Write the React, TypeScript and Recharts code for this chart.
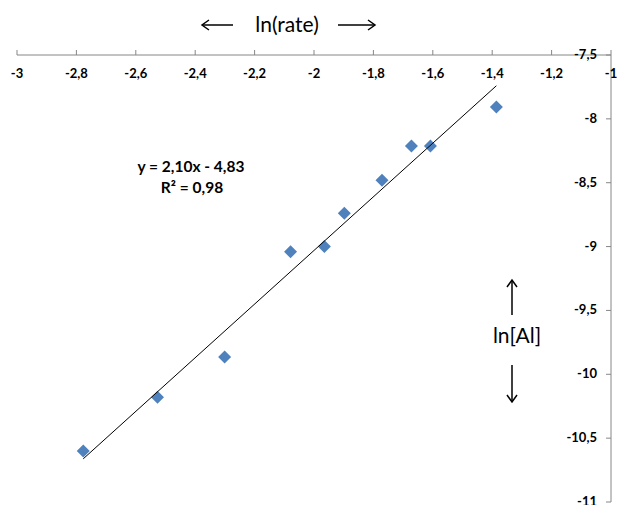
// Scatter of ln[Al] vs ln(rate) with its linear trend line, Excel look:
// x axis on top, y axis on the right, labels inside the plot.

import { Scatter, ScatterChart, XAxis, YAxis } from "recharts";

const LN_RATE = [-2.777, -2.527, -2.301, -2.079, -1.965, -1.898, -1.771, -1.672, -1.608, -1.386];
const LN_AL = [-10.6, -10.18, -9.865, -9.04, -9.0, -8.74, -8.48, -8.213, -8.213, -7.907];

// trend line y = 2,10x - 4,83 drawn over the range of the data
const TREND_X = [-2.777, -1.386];
const TREND_Y = [-10.662, -7.741];

const X_TICKS = [-3, -2.8, -2.6, -2.4, -2.2, -2, -1.8, -1.6, -1.4, -1.2, -1];
const Y_TICKS = [-11, -10.5, -10, -9.5, -9, -8.5, -8, -7.5];

const BLUE = "#4f81bd";
const AXIS = "#868686";
const FONT = "Lato, 'Open Sans', sans-serif";

const points = LN_RATE.map((x, i) => ({ x, y: LN_AL[i] }));
const trend = TREND_X.map((x, i) => ({ x, y: TREND_Y[i] }));

const fmt = (v: number) => String(v).replace(".", ",");

function XTick(props: any) {
  const { x, y, payload } = props;
  return (
    <g>
      <line x1={x} x2={x} y1={y} y2={y - 5} stroke={AXIS} />
      <text x={x} y={y + 23} textAnchor="middle" fontFamily={FONT} fontWeight={700} fontSize={13} fill="#000">
        {fmt(payload.value)}
      </text>
    </g>
  );
}

function YTick(props: any) {
  const { x, y, payload } = props;
  return (
    <g>
      <line x1={x - 5} x2={x} y1={y} y2={y} stroke={AXIS} />
      <text x={x - 14} y={y + 4} textAnchor="end" fontFamily={FONT} fontWeight={700} fontSize={13} fill="#000">
        {fmt(payload.value)}
      </text>
    </g>
  );
}

function Diamond(props: any) {
  const { cx, cy } = props;
  const r = 6.5;
  return (
    <polygon points={`${cx},${cy - r} ${cx + r},${cy} ${cx},${cy + r} ${cx - r},${cy}`} fill={BLUE} />
  );
}

const NoDot = () => <g />;

export default function App() {
  return (
    <div style={{ position: "absolute", left: 0, top: 0, width: 619, height: 505, background: "#fff" }}>
      <ScatterChart width={619} height={505} margin={{ top: 55, right: 8, bottom: 3, left: 17 }}>
        <XAxis
          type="number"
          dataKey="x"
          orientation="top"
          mirror
          domain={[-3, -1]}
          ticks={X_TICKS}
          interval={0}
          tickSize={0}
          tickMargin={0}
          tick={<XTick />}
          stroke={AXIS}
          allowDataOverflow
        />
        <YAxis
          type="number"
          dataKey="y"
          orientation="right"
          mirror
          domain={[-11, -7.5]}
          ticks={Y_TICKS}
          interval={0}
          tickSize={0}
          tickMargin={0}
          tick={<YTick />}
          stroke={AXIS}
          allowDataOverflow
        />
        <Scatter data={points} shape={<Diamond />} isAnimationActive={false} />
        <Scatter
          data={trend}
          shape={NoDot}
          line={{ stroke: "#000", strokeWidth: 1 }}
          isAnimationActive={false}
        />
      </ScatterChart>

      <svg width={619} height={505} style={{ position: "absolute", left: 0, top: 0, pointerEvents: "none" }}>
        <g stroke="#000" strokeWidth={1.5} fill="none">
          <line x1={202} y1={25} x2={233} y2={25} />
          <polyline points="209,20 202,25 209,30" />
          <line x1={338} y1={25} x2={375} y2={25} />
          <polyline points="368,20 375,25 368,30" />
          <line x1={512} y1={280} x2={512} y2={315} />
          <polyline points="507,287 512,280 517,287" />
          <line x1={512} y1={365} x2={512} y2={402} />
          <polyline points="507,395 512,402 517,395" />
        </g>
        <text x={287} y={32} textAnchor="middle" fontFamily={FONT} fontSize={21} fill="#000">
          ln(rate)
        </text>
        <text x={517} y={343} textAnchor="middle" fontFamily={FONT} fontSize={21} fill="#000">
          ln[Al]
        </text>
        <text x={191} y={172} textAnchor="middle" fontFamily={FONT} fontWeight={700} fontSize={15.5} fill="#000">
          y = 2,10x - 4,83
        </text>
        <text x={192} y={193} textAnchor="middle" fontFamily={FONT} fontWeight={700} fontSize={15.5} fill="#000">
          R² = 0,98
        </text>
      </svg>
    </div>
  );
}
